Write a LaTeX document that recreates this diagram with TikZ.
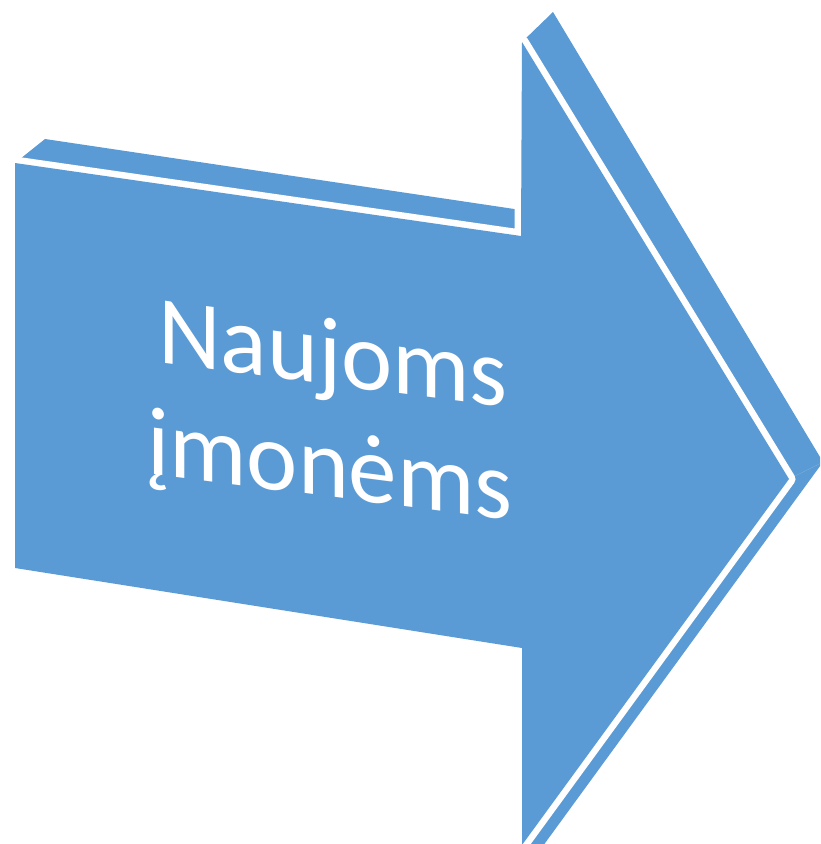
\documentclass[tikz,border=0pt]{standalone}
\usepackage{fontspec}
\setmainfont{Carlito}
\definecolor{arrowblue}{HTML}{5B9BD5}
\begin{document}
\begin{tikzpicture}[x=1pt,y=-1pt,
  face/.style={fill=arrowblue,draw=none},
  gap/.style={draw=white,line width=13pt,line join=round},
  label/.style={text=white,font=\fontsize{97}{113}\selectfont,anchor=base,inner sep=0pt,yslant=-0.13}]
\useasboundingbox (0,0) rectangle (820,844);
\clip (0,0) rectangle (820,844);
% front face corners
\coordinate (F1) at (15,163);
\coordinate (F2) at (521,236);
\coordinate (F3) at (522,42);
\coordinate (F4) at (789,479);
\coordinate (F5) at (522,845);
\coordinate (F6) at (522,648);
\coordinate (F7) at (15,568);
% back corners
\coordinate (B1) at (45,139);
\coordinate (B2) at (521,210);
\coordinate (B3) at (553,12);
\coordinate (B4) at (823,462);
\coordinate (B5) at (540,850);
% side faces
\fill[face] (F1) -- (B1) -- (B2) -- (F2) -- cycle;
\fill[face] (F3) -- (B3) -- (B4) -- (F4) -- cycle;
\fill[face] (F4) -- (B4) -- (B5) -- (F5) -- cycle;
% white gap round the front face
\draw[gap] (F1) -- (F2) -- (F3) -- (F4) -- (F5) -- (F6) -- (F7) -- cycle;
% front face
\fill[face] (F1) -- (F2) -- (F3) -- (F4) -- (F5) -- (F6) -- (F7) -- cycle;
\node[label] (l1) at (333,385) {Naujoms};
\node[label] (l2) at (330,497) {įmonėms};
\end{tikzpicture}
\end{document}
